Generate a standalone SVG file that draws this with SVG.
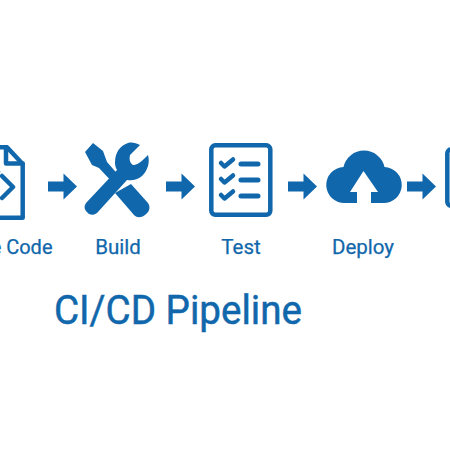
<svg xmlns="http://www.w3.org/2000/svg" width="450" height="450" viewBox="0 0 450 450">
<style>
.lbl{font-family:"Roboto","Liberation Sans",sans-serif;font-size:20.5px;fill:#1167ab;stroke:#1167ab;stroke-width:.25;text-anchor:middle}
.ttl{font-family:"Roboto","Liberation Sans",sans-serif;font-size:40px;fill:#1167ab;stroke:#1167ab;stroke-width:.5;text-anchor:middle}
.f{fill:#1167ab}
.s{fill:none;stroke:#1167ab;stroke-width:4.5;stroke-linejoin:round;stroke-linecap:round}
.t{stroke-width:5}
</style>
<defs><polygon id="arr" points="0,-5 15.500,-5 15.500,-13 29,0 15.500,13 15.500,5 0,5"/></defs>
<rect width="450" height="450" fill="#fff"/>
<g id="connectors" class="f">
<use href="#arr" x="48" y="186.500"/>
<use href="#arr" x="166" y="186.500"/>
<use href="#arr" x="288" y="186.500"/>
<use href="#arr" x="407" y="186.500"/>
</g>
<g id="source-code">
<path class="s" d="M-6 147.300H7L22.700 164V217.700H-6Z"/>
<path class="s" d="M6 147.300V163.500H22.700"/>
<path class="s" d="M2 176L13 187L2 198"/>
<path class="s" d="M-2 172L-4 178"/>
<text class="lbl" x="52.500" y="254" style="text-anchor:end;font-size:20px">e Code</text>
</g>
<g id="build">
<path class="f" d="M93 143L85 152L92 165L99 168L115 185L121 178L107 162L103 151Z"/>
<path class="f" d="M131 184L148 203C151 208 149 212 145 215C141 218 137 218 134 215L115 193Z"/>
<path class="f" d="M115 163C115 152 120 146 128 143C132 142 136 143 140 145L130 155C129 160 130 163 133 165C137 165 140 163 148 155C150 162 148 170 142 176C137 180 132 181 127 180L97 213C93 216 89 215 87 212C84 209 84 206 86 203L117 170C116 168 115 166 115 163Z"/>
<text class="lbl" x="118" y="254">Build</text>
</g>
<g id="test">
<rect class="s" x="211.300" y="145.300" width="59" height="69.500" rx="4"/>
<path class="s" d="M221 163L224.500 166.500L233 159.500M221 179L224.500 182.500L233 175.500M221 195L224.500 198.500L233 191.500"/>
<path class="s t" d="M241 164H258M241 180H258M241 196H258"/>
<text class="lbl" x="241" y="254">Test</text>
</g>
<g id="deploy">
<path class="f" d="M345 203A18 18 0 0 1 343.500 167A21 21 0 0 1 384.500 167A18 18 0 0 1 383 203H371V192H378L363.500 171L350 192H357V203Z"/>
<text class="lbl" x="363" y="254">Deploy</text>
</g>
<g id="monitor">
<rect class="s" x="447.300" y="149.300" width="20" height="56.500" rx="4"/>
</g>
<g id="title"><text class="ttl" x="178" y="324" textLength="248" lengthAdjust="spacingAndGlyphs">CI/CD Pipeline</text></g>
</svg>
